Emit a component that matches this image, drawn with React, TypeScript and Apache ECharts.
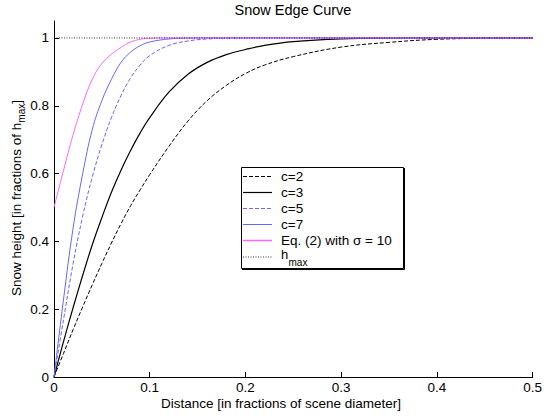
import { useEffect, useRef } from 'react';
import * as echarts from 'echarts';

const distance = [0, 0.01, 0.02, 0.03, 0.04, 0.05, 0.06, 0.07, 0.08, 0.09, 0.1, 0.12, 0.14, 0.16, 0.18, 0.2, 0.22, 0.25, 0.3, 0.35, 0.4, 0.45, 0.5];
const c2 = [0, 0.07, 0.14, 0.207, 0.272, 0.335, 0.395, 0.452, 0.505, 0.552, 0.597, 0.68, 0.755, 0.815, 0.86, 0.895, 0.92, 0.945, 0.973, 0.987, 0.996, 0.999, 1];
const c3 = [0, 0.105, 0.205, 0.3, 0.39, 0.47, 0.545, 0.61, 0.668, 0.72, 0.765, 0.84, 0.893, 0.928, 0.951, 0.966, 0.978, 0.989, 0.997, 0.9995, 1, 1, 1];
const c5 = [0, 0.17, 0.335, 0.475, 0.59, 0.685, 0.765, 0.83, 0.882, 0.92, 0.948, 0.978, 0.991, 0.997, 0.999, 1, 1, 1, 1, 1, 1, 1, 1];
const c7 = [0, 0.23, 0.44, 0.6, 0.73, 0.815, 0.878, 0.928, 0.958, 0.977, 0.988, 0.997, 0.9995, 1, 1, 1, 1, 1, 1, 1, 1, 1, 1];
const eq2 = [0.5, 0.61, 0.715, 0.805, 0.878, 0.925, 0.952, 0.972, 0.988, 0.996, 0.999, 1, 1, 1, 1, 1, 1, 1, 1, 1, 1, 1, 1];
const hmaxX = [0, 0.5];
const hmaxY = [1, 1];
const yTicks = [0, 0.2, 0.4, 0.6, 0.8, 1];
const legendNames = ['c=2', 'c=3', 'c=5', 'c=7', 'Eq. (2) with σ = 10'];

const FONT = '"Liberation Sans", Arial, Helvetica, sans-serif';
const BLUE = '#6666ff';
const PINK = '#ff66ff';

export default function App() {
  const ref = useRef<HTMLDivElement>(null);
  useEffect(() => {
    const chart = echarts.init(ref.current!, null, { renderer: 'svg' });
    const pts = (ys: number[]) => distance.map((x, i) => [x, ys[i]]);
    const styles = [
      { color: '#000', width: 1, type: [4, 2] as any },
      { color: '#000', width: 1.2, type: 'solid' as any },
      { color: BLUE, width: 1, type: [4, 2] as any },
      { color: BLUE, width: 1, type: 'solid' as any },
      { color: PINK, width: 1, type: 'solid' as any },
    ];
    const allY = [c2, c3, c5, c7, eq2];
    const series: any[] = allY.map((ys, i) => ({
      type: 'line',
      name: legendNames[i],
      data: pts(ys),
      showSymbol: false,
      smooth: 0.4,
      lineStyle: { color: styles[i].color, width: styles[i].width, type: styles[i].type },
      itemStyle: { color: styles[i].color },
      z: 2 + i,
    }));
    series.push({
      type: 'line',
      name: 'hmax',
      data: hmaxX.map((x, i) => [x, hmaxY[i]]),
      showSymbol: false,
      lineStyle: { color: '#000', width: 0.8, type: [1, 1.5] },
      z: 10,
    });

    const lx = 243, lx2 = 272, tx = 281;
    const rows = [176.5, 192.5, 208.5, 224.5, 240.5];
    const legendEls: any[] = [
      { type: 'rect', shape: { x: 241.5, y: 167.5, width: 162, height: 101 }, style: { fill: '#fff', stroke: '#000', lineWidth: 1 }, z: 100 },
      { type: 'line', shape: { x1: 404.5, y1: 168, x2: 404.5, y2: 269.5 }, style: { stroke: '#000', lineWidth: 1 }, z: 101 },
      { type: 'line', shape: { x1: 242, y1: 269.5, x2: 404.5, y2: 269.5 }, style: { stroke: '#000', lineWidth: 1 }, z: 101 },
    ];
    rows.forEach((y, i) => {
      legendEls.push({ type: 'line', shape: { x1: lx, y1: y, x2: lx2, y2: y }, style: { stroke: styles[i].color, lineWidth: i === 4 ? 1.5 : styles[i].width, lineDash: Array.isArray(styles[i].type) ? styles[i].type : null }, z: 102 });
      legendEls.push({ type: 'text', x: tx, y: y, style: { text: legendNames[i], fontSize: 13.5, fontFamily: FONT, fill: '#000', align: 'left', verticalAlign: 'middle' }, z: 102 });
    });
    legendEls.push({ type: 'line', shape: { x1: lx, y1: 257, x2: lx2, y2: 257 }, style: { stroke: '#000', lineWidth: 0.8, lineDash: [1, 1.5] }, z: 102 });
    legendEls.push({ type: 'text', x: tx, y: 254, style: { text: 'h', fontSize: 13, fontFamily: FONT, fill: '#000', align: 'left', verticalAlign: 'middle' }, z: 102 });
    legendEls.push({ type: 'text', x: tx + 7.5, y: 262.5, style: { text: 'max', fontSize: 10, fontFamily: FONT, fill: '#000', align: 'left', verticalAlign: 'middle' }, z: 102 });

    chart.setOption({
      animation: false,
      backgroundColor: '#fff',
      grid: { left: 54, right: 10, top: 21, bottom: 39 },
      xAxis: {
        type: 'value', min: 0, max: 0.5, interval: 0.1,
        axisLine: { lineStyle: { color: '#000', width: 1 } },
        axisTick: { inside: true, length: 5, lineStyle: { color: '#000' } },
        axisLabel: { color: '#000', fontSize: 13.5, fontFamily: FONT, margin: 3 },
        splitLine: { show: false },
      },
      yAxis: {
        type: 'value', min: 0, max: 1.05,
        axisLine: { show: true, lineStyle: { color: '#000', width: 1 } },
        axisTick: { show: true, inside: true, length: 5, lineStyle: { color: '#000' }, customValues: yTicks },
        axisLabel: { color: '#000', fontSize: 13.5, fontFamily: FONT, margin: 5, customValues: yTicks },
        splitLine: { show: false },
      },
      series,
      graphic: [
        { type: 'text', x: 293, y: 10, style: { text: 'Snow Edge Curve', fontSize: 14.5, fontFamily: FONT, fill: '#000', align: 'center', verticalAlign: 'middle' } },
        { type: 'text', x: 281, y: 403, style: { text: 'Distance [in fractions of scene diameter]', fontSize: 13.5, fontFamily: FONT, fill: '#000', align: 'center', verticalAlign: 'middle' } },
        {
          type: 'text', x: 16, y: 198, rotation: Math.PI / 2,
          style: {
            text: '{a|Snow height [in fractions of h}{b|max}{a|]}',
            align: 'center', verticalAlign: 'middle', fill: '#000',
            rich: {
              a: { fontSize: 13.5, fontFamily: FONT, fill: '#000' },
              b: { fontSize: 10, fontFamily: FONT, fill: '#000', padding: [10, 0, 0, 0] },
            },
          },
        },
        ...legendEls,
      ],
    });
    return () => chart.dispose();
  }, []);
  return <div ref={ref} style={{ position: 'fixed', left: 0, top: 0, width: 545, height: 416, background: '#fff' }} />;
}
